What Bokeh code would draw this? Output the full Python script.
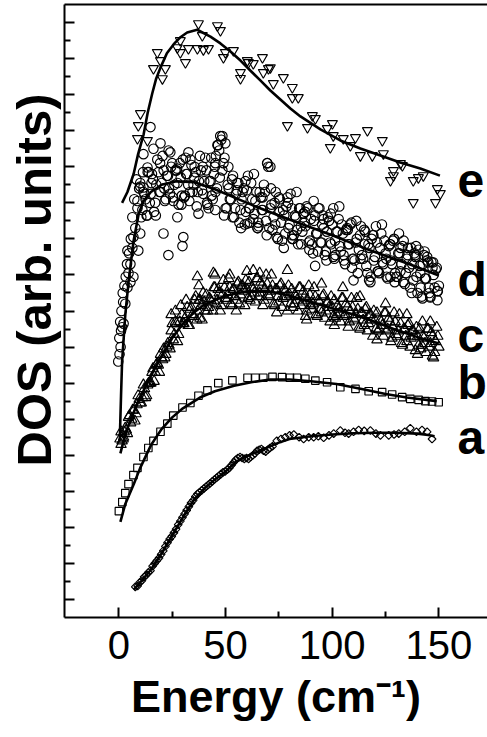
import math
from bokeh.plotting import figure
from bokeh.models import Range1d, FixedTicker, LinearAxis, Label, Title
from bokeh.embed import file_html
from bokeh.resources import INLINE

# ---------------- data (energy in cm^-1, DOS in arbitrary offset units) ----------------
x_major = [0, 50, 100, 150]
x_minor = [25, 75, 125]
x_tick_labels = {0: "0", 50: "50", 100: "100", 150: "150"}
y_major = [1, 3, 5, 7, 9, 11, 13, 15, 17, 19, 21, 23, 25, 27, 29, 31, 33]
y_minor = [2, 4, 6, 8, 10, 12, 14, 16, 18, 20, 22, 24, 26, 28, 30, 32]

curve_names = ["a", "b", "c", "d", "e"]
curve_label_y = [10.0, 13.05, 15.65, 18.75, 24.25]

a_pts = [(7.7,1.7),(8.8,1.75),(9.8,1.95),(10.8,2.05),(11.8,2.25),(12.8,2.35),(13.8,2.5),(14.8,2.6),
         (15.8,2.85),(16.8,3.0),(17.8,3.15),(18.8,3.3),(19.8,3.5),(20.8,3.7),(21.8,3.95),(22.8,4.15),
         (23.8,4.35),(24.8,4.5),(25.8,4.7),(26.8,4.9),(27.8,5.15),(28.8,5.35),(29.8,5.55),(30.8,5.75),
         (31.8,5.95),(32.8,6.15),(33.8,6.35),(34.8,6.5),(35.8,6.7),(36.8,6.85),(37.8,6.95),(38.8,7.05),
         (39.8,7.15),(40.8,7.25),(41.8,7.35),(42.8,7.45),(43.8,7.55),(44.8,7.65),(45.8,7.75),(46.8,7.85),
         (47.8,7.95),(48.8,8.05),(49.8,8.1),(50.8,8.2),(51.8,8.3),(52.8,8.45),(53.8,8.6),(54.8,8.75),
         (55.8,8.85),(56.8,8.9),(57.8,8.85),(58.8,8.8),(59.8,8.85),(60.8,8.8),(61.8,8.9),(62.8,9.0),
         (63.8,9.1),(64.8,9.25),(65.8,9.3),(66.8,9.35),(67.8,9.25),(68.8,9.2),(69.8,9.3),(70.8,9.4),
         (72,9.5),(74,9.8),(76,9.9),(78,10.0),(80,10.1),(82,10.15),(84.5,10.0),(86.6,9.9),(89,10.0),
         (91.3,10.0),(93.5,10.05),(96,9.97),(98.5,10.1),(100.7,10.2),(103.8,10.37),(106,10.25),
         (107.7,10.2),(110,10.3),(112.4,10.4),(115,10.35),(117.9,10.37),(120.5,10.2),(122.6,10.1),
         (126.5,10.1),(129,10.15),(131.2,10.2),(134,10.3),(136.6,10.5),(139.5,10.3),(142.1,10.4),
         (144.5,10.3),(146.8,9.9)]
a_fit = [(7,1.55),(10,1.95),(15,2.65),(20,3.55),(25,4.55),(30,5.55),(35,6.5),(40,7.15),(45,7.65),
         (50,8.1),(55,8.65),(60,8.95),(65,9.2),(70,9.45),(75,9.7),(80,9.9),(90,10.05),(100,10.15),
         (110,10.22),(120,10.25),(130,10.25),(140,10.2),(145,10.12),(148,10.05)]

b_pts = [(0.0,5.9),(1.6,6.4),(3.0,6.9),(4.5,7.4),(6.8,7.9),(8.7,8.3),(11.5,8.9),(13.8,9.4),(16.2,9.8),
         (19.5,10.3),(22.7,10.75),(25.5,11.2),(29.8,11.65),(33.5,11.9),(37.3,12.3),(41.5,12.6),
         (46.6,13.0),(53.2,13.15),(60.3,13.3),(64.0,13.3),(67.7,13.3),(72.0,13.35),(76.5,13.33),
         (80.2,13.3),(83.5,13.3),(87.4,13.24),(92.1,13.14),(97.6,13.05),(103.8,12.77),(110.9,12.68),
         (117.1,12.55),(123.4,12.5),(128.1,12.37),(132.8,12.22),(136.6,12.13),(140.5,12.07),
         (143.7,12.0),(146.8,11.98),(149.9,11.94)]
b_fit = [(0.7,5.3),(3,6.3),(7,7.4),(10,8.3),(15,9.55),(20,10.45),(25,11.1),(30,11.6),(38,12.2),
         (45,12.55),(54,12.85),(62,13.05),(71,13.2),(80,13.2),(90,13.1),(102,12.95),(115,12.65),
         (125,12.4),(135,12.2),(149,12.0)]

c_pts = [(1,10.3),(2,9.9),(3,10.5),(4,10.2),(5,11.2),(6,11.0),(7,11.5),(8,11.3),(9,12.3),(10,11.9),
         (11,12.2),(12,12.7),(13,12.3),(14,13.0),(15,13.0),(16,13.8),(17,13.6),(18,14.1),(19,13.6),
         (20,14.4),(21,14.9),(22,14.6),(23,15.2),(24,14.9),(25,16.3),(26,15.7),(27,16.3),(28,15.7),
         (29,17.3),(30,16.3),(31,16.6),(32,17.2),(33,16.2),(34,17.2),(35,16.7),(36,17.8),(37,17.0),
         (38,17.6),(39,16.5),(40,17.5),(41,17.9),(42,17.2),(43,17.6),(44,17.0),(45,18.3),(46,17.6),
         (47,18.0),(48,17.3),(49,18.7),(50,17.7),(51,17.9),(52,18.3),(53,17.3),(54,18.2),(55,17.6),
         (56,18.6),(57,17.9),(58,18.4),(59,17.3),(60,18.2),(61,18.6),(62,17.8),(63,18.2),(64,17.5),
         (65,18.8),(66,18.0),(67,18.4),(68,17.6),(69,19.0),(70,17.9),(71,18.1),(72,18.4),(73,17.3),
         (74,18.2),(75,17.5),(76,18.5),(77,17.7),(78,18.1),(79,17.0),(80,17.9),(81,18.2),(82,17.4),
         (83,17.8),(84,17.0),(85,18.3),(86,17.5),(87,17.8),(88,17.0),(89,18.4),(90,17.3),(91,17.4),
         (92,17.8),(93,16.7),(94,17.5),(95,16.9),(96,17.9),(97,17.0),(98,17.5),(99,16.4),(100,17.2),
         (101,17.6),(102,16.8),(103,17.1),(104,16.4),(105,17.7),(106,16.8),(107,17.2),(108,16.4),
         (109,17.7),(110,16.6),(111,16.8),(112,17.1),(113,16.0),(114,16.9),(115,16.2),(116,17.2),
         (117,16.3),(118,16.8),(119,15.6),(120,16.5),(121,16.9),(122,16.0),(123,16.4),(124,15.6),
         (125,16.9),(126,16.0),(127,16.4),(128,15.5),(129,16.9),(130,15.7),(131,15.9),(132,16.3),
         (133,15.1),(134,16.0),(135,15.3),(136,16.3),(137,15.5),(138,15.9),(139,14.8),(140,15.6),
         (141,16.0),(142,15.1),(143,15.5),(144,14.7),(145,16.0),(146,15.2),(147,15.6),(148,14.7),
         (149,16.1),(150,15.0),
         (1.5,9.8),(2.5,10.3),(3.5,10.4),(4.5,11.1),(5.5,10.8),(6.5,11.5),(7.5,10.9),(8.5,11.8),
         (9.5,12.1),(10.5,11.9),(11.5,12.9),(12.5,12.2),(13.5,12.9),(14.5,13.0),(15.5,13.6),(16.5,13.1),
         (17.5,14.0),(18.5,14.0),(19.5,14.6),(20.5,14.3),(21.5,14.4),(22.5,15.0),(23.5,15.1),(24.5,15.9),
         (25.5,15.4),(26.5,16.4),(27.5,15.3),(28.5,16.4),(29.5,16.8),(30.5,16.3),(31.5,17.6),(32.5,16.2),
         (33.5,17.1),(34.5,16.8),(35.5,17.6),(36.5,16.5),(37.5,17.6),(38.5,17.3),(39.5,18.0),(40.5,17.0),
         (41.5,17.0),(42.5,17.7),(43.5,17.5),(44.5,18.3),(45.5,17.4),(46.5,18.2),(47.5,17.0),(48.5,17.9),
         (49.5,18.3),(50.5,17.6),(51.5,18.8),(52.5,17.4),(53.5,18.2),(54.5,17.8),(55.5,18.5),(56.5,17.4),
         (57.5,18.4),(58.5,18.1),(59.5,18.7),(60.5,17.7),(61.5,17.6),(62.5,18.3),(63.5,18.0),(64.5,18.8),
         (65.5,17.8),(66.5,18.6),(67.5,17.3),(68.5,18.2),(69.5,18.5),(70.5,17.8),(71.5,19.0),(72.5,17.4),
         (73.5,18.2),(74.5,17.8),(75.5,18.4),(76.5,17.2),(77.5,18.2),(78.5,17.8),(79.5,18.4),(80.5,17.4),
         (81.5,17.2),(82.5,17.9),(83.5,17.6),(84.5,18.3),(85.5,17.3),(86.5,18.1),(87.5,16.7),(88.5,17.6),
         (89.5,17.9),(90.5,17.1),(91.5,18.3),(92.5,16.8),(93.5,17.6),(94.5,17.1),(95.5,17.8),(96.5,16.6),
         (97.5,17.5),(98.5,17.2),(99.5,17.8),(100.5,16.7),(101.5,16.6),(102.5,17.3),(103.5,16.9),
         (104.5,17.7),(105.5,16.7),(106.5,17.4),(107.5,16.1),(108.5,17.0),(109.5,17.2),(110.5,16.5),
         (111.5,17.7),(112.5,16.1),(113.5,16.9),(114.5,16.5),(115.5,17.1),(116.5,15.9),(117.5,16.8),
         (118.5,16.5),(119.5,17.0),(120.5,16.0),(121.5,15.9),(122.5,16.5),(123.5,16.2),(124.5,16.9),
         (125.5,15.9),(126.5,16.6),(127.5,15.3),(128.5,16.1),(129.5,16.4),(130.5,15.6),(131.5,16.8),
         (132.5,15.2),(133.5,16.0),(134.5,15.6),(135.5,16.2),(136.5,15.0),(137.5,15.9),(138.5,15.6),
         (139.5,16.1),(140.5,15.1),(141.5,14.9),(142.5,15.6),(143.5,15.2),(144.5,16.0),(145.5,15.0),
         (146.5,15.8),(147.5,14.4),(148.5,15.3),(149.5,15.6),
         (0.5,9.9),(1.0,9.6),(2.2,10.0),(24.5,16.8),(26.5,17.0),(36.8,18.9),(37.5,18.4),(44.3,19.1),
         (45,19.0),(52,19.0),(60,19.2),(63,19.25),(66,19.1),(79,19.25),(95,18.5),(105,18.3),(113,17.8),
         (125,17.4),(135,16.8),(146,16.4),(142.3,16.4),(38,16.6),(55,17.0),(74,16.9),(88,16.5),
         (101,16.2),(121,15.4),(140,14.6),(147,14.5)]
c_fit = [(0.7,9.1),(2,9.7),(4,10.5),(7,11.4),(10,12.2),(15,13.4),(20,14.5),(25,15.5),(30,16.3),
         (35,16.9),(40,17.35),(50,17.85),(60,18.1),(70,18.1),(80,17.85),(90,17.5),(100,17.15),
         (110,16.8),(120,16.4),(130,15.95),(140,15.55),(150,15.2)]

d_pts = [(-0.3,14.2),(0.3,14.6),(0.8,15.0),(0.2,15.5),(1.0,15.9),(0.6,16.4),(1.5,16.1),(2.2,16.3),
         (1.2,17.0),(2.0,17.5),(3.0,17.4),(1.8,18.0),(2.6,18.4),(4.0,18.3),(3.2,18.9),(4.5,19.1),
         (5.4,18.6),(3.8,19.6),(5.4,19.6),(6.8,18.9),(4.8,20.2),(6.3,20.5),(9.1,20.35),(5.6,21.0),
         (6.8,21.1),(10.0,21.3),(7.7,21.6),(6.3,22.2),(8.7,22.7),(7.2,23.2),(9.5,23.8),(8.2,24.3),
         (4.0,20.35),(10.0,24.1),(8.7,23.1),(11.5,23.85),
         (10,23.9),(11,22.6),(12,23.5),(13,22.3),(14,24.7),(15,23.5),(16,24.3),(17,23.0),(18,25.4),
         (19,23.6),(20,24.1),(21,24.8),(22,23.2),(23,24.5),(24,23.5),(25,25.2),(26,24.0),(27,24.8),
         (28,22.9),(29,24.4),(30,25.4),(31,23.4),(32,24.6),(33,23.1),(34,25.1),(35,24.0),(36,24.7),
         (37,23.6),(38,25.6),(39,23.7),(40,24.2),(41,24.8),(42,22.7),(43,24.2),(44,23.2),(45,25.0),
         (46,23.8),(47,25.9),(48,26.5),(49,25.2),(50,22.7),(51,24.0),(52,23.2),(53,24.3),(54,22.2),
         (55,23.5),(56,24.1),(57,22.6),(58,23.6),(59,21.8),(60,23.7),(61,22.7),(62,24.1),(63,22.1),
         (64,23.1),(65,21.6),(66,23.6),(67,22.6),(68,24.0),(69,22.0),(70,25.0),(71,22.7),(72,21.5),
         (73,23.0),(74,21.1),(75,23.3),(76,21.9),(77,22.6),(78,21.3),(79,23.3),(80,21.8),(81,22.7),
         (82,21.2),(83,22.2),(84,20.7),(85,22.7),(86,21.4),(87,21.9),(88,22.8),(89,20.8),(90,22.1),
         (91,20.2),(92,22.3),(93,21.3),(94,22.7),(95,20.8),(96,21.6),(97,20.3),(98,22.2),(99,20.8),
         (100,21.8),(101,19.9),(102,21.4),(103,22.1),(104,20.3),(105,21.3),(106,19.6),(107,21.6),
         (108,20.7),(109,21.9),(110,19.9),(111,20.8),(112,19.1),(113,21.2),(114,20.1),(115,21.5),
         (116,19.5),(117,20.7),(118,18.9),(119,21.2),(120,20.0),(121,20.8),(122,19.1),(123,21.3),
         (124,19.6),(125,20.2),(126,18.8),(127,20.7),(128,19.6),(129,21.0),(130,18.9),(131,20.2),
         (132,19.2),(133,20.6),(134,18.5),(135,19.9),(136,19.4),(137,20.5),(138,18.7),(139,20.0),
         (140,18.0),(141,19.5),(142,17.8),(143,20.1),(144,18.8),(145,19.7),(146,17.8),(147,19.4),
         (148,18.3),(149,19.4),(150,18.4),
         (10.5,22.2),(11.5,23.6),(12.5,23.2),(13.5,24.7),(14.5,23.0),(15.5,24.6),(16.5,22.5),(17.5,24.0),
         (18.5,24.7),(19.5,23.6),(20.5,25.6),(21.5,23.1),(22.5,24.5),(23.5,23.8),(24.5,25.0),(25.5,23.1),
         (26.5,24.8),(27.5,24.1),(28.5,25.2),(29.5,23.4),(30.5,23.3),(31.5,24.6),(32.5,24.0),(33.5,25.4),
         (34.5,23.6),(35.5,25.0),(36.5,22.8),(37.5,24.2),(38.5,24.8),(39.5,23.5),(40.5,25.5),(41.5,22.9),
         (42.5,24.2),(43.5,23.4),(44.5,24.6),(45.5,25.6),(46.5,26.2),(47.5,26.7),(48.5,24.8),(49.5,25.5),
         (50.5,22.7),(51.5,23.8),(52.5,23.2),(53.5,24.5),(54.5,22.7),(55.5,24.1),(56.5,21.9),(57.5,23.2),
         (58.5,23.8),(59.5,22.5),(60.5,24.5),(61.5,21.9),(62.5,23.2),(63.5,22.4),(64.5,23.6),(65.5,21.7),
         (66.5,23.3),(67.5,22.6),(68.5,23.6),(69.5,25.2),(70.5,21.6),(71.5,22.9),(72.5,22.2),(73.5,23.6),
         (74.5,21.0),(75.5,23.2),(76.5,20.9),(77.5,22.3),(78.5,22.8),(79.5,21.6),(80.5,23.5),(81.5,21.0),
         (82.5,22.3),(83.5,21.5),(84.5,22.7),(85.5,20.7),(86.5,22.4),(87.5,21.7),(88.5,22.7),(89.5,20.9),
         (90.5,20.7),(91.5,22.0),(92.5,21.3),(93.5,22.7),(94.5,20.8),(95.5,22.3),(96.5,20.1),(97.5,21.4),
         (98.5,22.0),(99.5,20.7),(100.5,22.7),(101.5,20.1),(102.5,21.4),(103.5,20.6),(104.5,21.8),
         (105.5,19.8),(106.5,21.5),(107.5,20.7),(108.5,21.8),(109.5,19.9),(110.5,19.8),(111.5,21.0),
         (112.5,20.4),(113.5,21.7),(114.5,19.9),(115.5,21.4),(116.5,19.1),(117.5,20.5),(118.5,21.0),
         (119.5,19.8),(120.5,21.7),(121.5,19.2),(122.5,20.5),(123.5,19.7),(124.5,20.9),(125.5,18.9),
         (126.5,20.6),(127.5,19.8),(128.5,20.9),(129.5,19.1),(130.5,18.9),(131.5,20.2),(132.5,19.6),
         (133.5,20.9),(134.5,19.1),(135.5,20.5),(136.5,18.3),(137.5,19.6),(138.5,20.2),(139.5,18.9),
         (140.5,20.4),(141.5,18.3),(142.5,19.6),(143.5,18.8),(144.5,20.0),(145.5,18.0),(146.5,19.7),
         (147.5,19.0),(148.5,19.3),(149.5,18.1),
         (11.3,24.7),(13.3,22.3),(15.3,24.1),(17.3,22.3),(19.3,25.2),(21.3,23.8),(23.3,25.9),(25.3,23.3),
         (27.3,24.9),(29.3,22.9),(31.3,25.5),(33.3,23.6),(35.3,24.4),(37.3,22.4),(39.3,25.0),(41.3,23.0),
         (43.3,25.5),(45.3,23.6),(47.3,24.4),(49.3,22.3),(51.3,25.0),(53.3,22.2),(55.3,23.7),(57.3,21.6),
         (59.3,24.2),(61.3,22.7),(63.3,24.6),(65.3,21.9),(67.3,23.3),(69.3,21.2),(71.3,23.8),(73.3,21.8),
         (75.3,22.5),(77.3,20.5),(79.3,23.0),(81.3,21.0),(83.3,23.6),(85.3,21.7),(87.3,22.5),(89.3,20.4),
         (91.3,23.1),(93.3,20.3),(95.3,21.8),(97.3,19.8),(99.3,22.4),(101.3,20.9),(103.3,22.8),
         (105.3,20.1),(107.3,21.5),(109.3,19.4),(111.3,22.0),(113.3,19.9),(115.3,20.7),(117.3,18.7),
         (119.3,21.2),(121.3,19.2),(123.3,21.8),(125.3,19.9),(127.3,20.7),(129.3,18.6),(131.3,21.3),
         (133.3,18.6),(135.3,20.1),(137.3,18.0),(139.3,20.6),(141.3,19.1),(143.3,20.3),(145.3,18.3),
         (147.3,19.7),(149.3,17.6),
         (14.8,27.2),(19.5,26.3),(24.1,25.8),(32.6,25.8),(49.9,26.3),(46.2,26.2),(23.2,20.1),(30.2,21.1),
         (29.8,20.6),(20.9,21.3),(27.4,22.2),(45.2,22.6),(60.2,21.85),(65,21.6),(81.3,21.2),(110,18.7),
         (117.9,18.6),(127.3,18.9),(142.3,17.7),(146,17.75),(11.5,25.7),(13.4,24.96),(16.2,26.0),
         (48.5,26.7),(45.2,25.2),(69.6,25.2),(71,25.0),(86.5,22.4),(95.9,22.1),(100.6,20.0),(92,19.5),
         (149.3,18.1),(139,20.1),(144.6,19.8),(132,20.5)]
d_fit = [(0.4,9.8),(1.0,12.3),(1.5,14.2),(3.0,16.8),(4.6,18.7),(6.9,20.9),(9.3,22.4),(11.6,23.1),
         (15,23.6),(20,24.0),(27,24.2),(35,24.15),(45,23.75),(54,23.3),(65,22.75),(75,22.3),
         (85,21.85),(100,21.2),(118,20.35),(135,19.65),(150,18.97)]

e_pts = [(10.1,27.95),(9.1,27.29),(8.7,26.57),(13.4,26.46),(18.0,31.34),(19.5,30.89),(16.2,30.45),
         (21.8,30.45),(20.4,29.89),(28.8,32.0),(27.4,31.61),(28.8,31.34),(32.6,31.56),(36.8,31.56),
         (39.6,31.5),(42.0,31.56),(31.2,30.78),(37.3,32.94),(39.1,32.28),(46.2,32.83),(47.6,32.56),
         (49.0,31.06),(49.9,31.34),(53.7,31.45),(57.0,30.23),(57.0,29.9),(60.2,30.89),(60.7,30.78),
         (63.0,30.73),(67.3,31.06),(67.7,30.23),(70.1,30.45),(71.0,30.5),(72.4,29.62),(77.1,29.95),
         (81.3,29.4),(81.3,28.84),(84.1,28.84),(79.0,27.29),(88.4,27.18),(90.7,27.84),(92.1,27.68),
         (97.7,27.12),(100.1,27.4),(100.5,26.73),(99.1,26.07),(105.2,26.57),(108.5,26.18),(110.9,26.62),
         (113.2,25.62),(116.5,27.01),(118.8,25.62),(123.5,26.46),(124.0,25.73),(132.0,25.18),
         (128.7,24.79),(128.7,24.51),(127.3,24.24),(132.9,25.07),(138.0,24.24),(140.4,24.4),
         (142.7,24.51),(138.0,23.02),(149.3,23.79),(150.7,23.52),(148.4,23.02)]
e_fit = [(1.5,23.0),(4,23.6),(6.9,24.6),(9,25.7),(11.6,26.8),(13.5,28.0),(15.6,29.05),(17.5,29.9),
         (19.5,30.5),(22.5,31.3),(25.7,31.8),(29,32.2),(32,32.45),(36.7,32.6),(42.9,32.22),
         (47.6,31.84),(52.3,31.39),(57.0,30.89),(61.6,30.34),(66.3,29.79),(71.0,29.23),(75.7,28.73),
         (80.4,28.23),(85.1,27.79),(94.5,27.07),(103.8,26.46),(113.2,26.01),(122.6,25.62),
         (131.9,25.24),(141.3,24.9),(150.5,24.51)]

# ---------------- figure ----------------
FONT = "Liberation Sans"
p = figure(width=487, height=733, x_range=Range1d(-25.5, 172.8), y_range=Range1d(0, 34),
           output_backend="svg", toolbar_location=None,
           min_border_left=64, min_border_right=0, min_border_top=4, min_border_bottom=116,
           background_fill_color="white", border_fill_color="white")
p.grid.visible = False
p.outline_line_color = None

xa = p.xaxis[0]
xa.ticker = FixedTicker(ticks=x_major, minor_ticks=x_minor)
xa.major_label_overrides = x_tick_labels
xa.axis_line_width = 2
xa.major_tick_line_width = 2
xa.minor_tick_line_width = 2
xa.major_tick_in = 10
xa.major_tick_out = 0
xa.minor_tick_in = 6
xa.minor_tick_out = 0
xa.major_label_text_font = FONT
xa.major_label_text_font_size = "40px"
xa.major_label_text_color = "black"
xa.major_label_standoff = 13
xa.axis_label = "Energy (cm\u207b\u00b9)"
xa.axis_label_text_font = FONT
xa.axis_label_text_font_style = "bold"
xa.axis_label_text_font_size = "45px"
xa.axis_label_text_color = "black"
xa.axis_label_standoff = 9

ya = p.yaxis[0]
ya.ticker = FixedTicker(ticks=y_major, minor_ticks=y_minor)
ya.major_label_overrides = {t: "" for t in y_major}
ya.major_label_standoff = 0
ya.axis_line_width = 2
ya.major_tick_line_width = 2
ya.minor_tick_line_width = 2
ya.major_tick_in = 10
ya.major_tick_out = 0
ya.minor_tick_in = 6
ya.minor_tick_out = 0

top = LinearAxis(ticker=FixedTicker(ticks=[]), axis_line_width=2,
                 major_tick_in=0, major_tick_out=0, minor_tick_in=0, minor_tick_out=0,
                 major_label_standoff=0, major_label_text_font_size="0px")
p.add_layout(top, "above")

ytitle = Title(text="DOS (arb. units)", align="left", offset=151, vertical_align="bottom",
               standoff=8, text_font=FONT, text_font_style="bold", text_font_size="49px",
               text_color="black")
p.add_layout(ytitle, "left")

def xs(pts):
    return [q[0] for q in pts]

def ys(pts):
    return [q[1] for q in pts]

mk = dict(fill_color=None, line_color="black", line_width=1.15)
p.scatter(xs(a_pts), ys(a_pts), marker="square", angle=math.pi / 4, size=5.5, **mk)
p.scatter(xs(b_pts), ys(b_pts), marker="square", size=7.5, **mk)
p.scatter(xs(c_pts), ys(c_pts), marker="triangle", size=10.5, **mk)
p.scatter(xs(d_pts), ys(d_pts), marker="circle", size=9.5, **mk)
p.scatter(xs(e_pts), ys(e_pts), marker="inverted_triangle", size=10, **mk)

for fit in (a_fit, b_fit, c_fit, d_fit, e_fit):
    p.line(xs(fit), ys(fit), line_color="black", line_width=2.6)

for name, yy in zip(curve_names, curve_label_y):
    p.add_layout(Label(x=158.7, y=yy, text=name, text_font=FONT, text_font_style="bold",
                       text_font_size="48px", text_color="black",
                       text_align="left", text_baseline="alphabetic"))

open("out.html", "w").write(file_html(p, INLINE))
